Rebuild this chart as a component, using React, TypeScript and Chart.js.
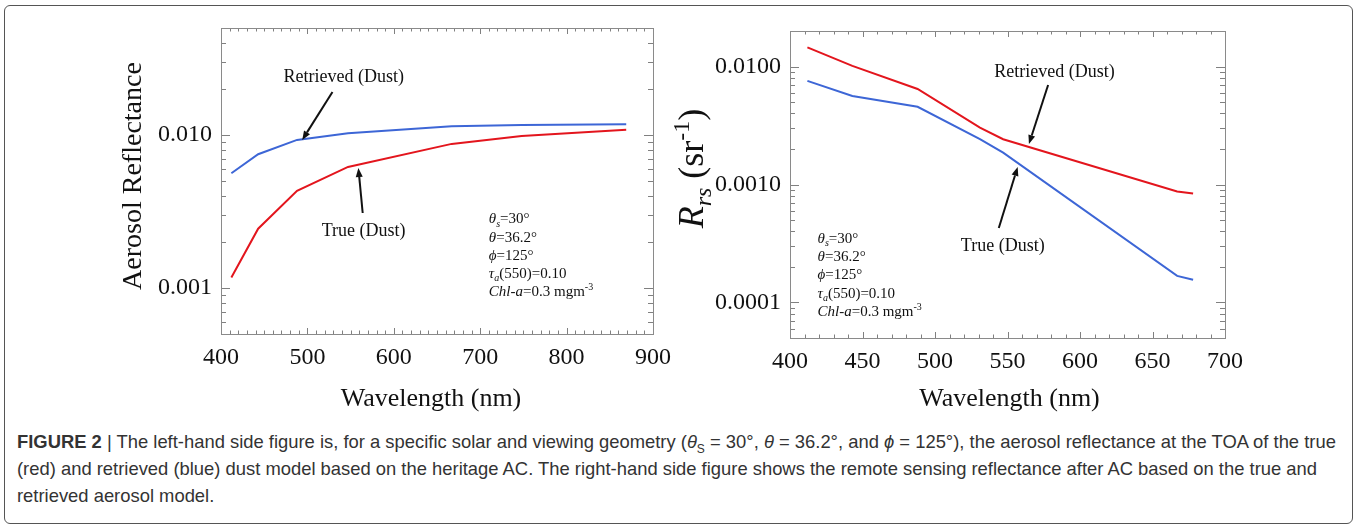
import React, { useEffect, useRef } from "react";
import { Chart, registerables } from "chart.js";

Chart.register(...registerables);

// ---------------- data ----------------
const LEFT_WAVELENGTHS = [412, 443, 488, 547, 667, 748, 869];
const LEFT_TRUE_DUST = [0.00117, 0.00244, 0.00431, 0.00618, 0.00874, 0.00985, 0.01083];
const LEFT_RETRIEVED_DUST = [0.00562, 0.00748, 0.00928, 0.01025, 0.01139, 0.0116, 0.01174];

const RIGHT_WAVELENGTHS = [412, 443, 488, 531, 547, 667, 678];
const RIGHT_RETRIEVED_DUST = [0.01452, 0.01013, 0.00645, 0.00304, 0.00242, 0.000871, 0.000838];
const RIGHT_TRUE_DUST = [0.00755, 0.00562, 0.00456, 0.00242, 0.00186, 0.000168, 0.000156];

const LEFT_X_LABELS = [400, 500, 600, 700, 800, 900];
const RIGHT_X_LABELS = [400, 450, 500, 550, 600, 650, 700];
const LEFT_Y_LABELS: [number, string][] = [
  [0.001, "0.001"],
  [0.01, "0.010"],
];
const RIGHT_Y_LABELS: [number, string][] = [
  [0.0001, "0.0001"],
  [0.001, "0.0010"],
  [0.01, "0.0100"],
];

const RED = "#e3151d";
const BLUE = "#3d66d6";
const SERIF = '"Liberation Serif", "Times New Roman", serif';

type Seg = { t: string; i?: boolean; sub?: boolean; sup?: boolean };

function linearTicks(min: number, max: number, step: number) {
  const out: number[] = [];
  for (let v = min; v <= max; v += step) out.push(v);
  return out;
}
function logTicks(min: number, max: number) {
  const out: number[] = [];
  for (let e = -6; e <= 1; e++) {
    for (let m = 1; m <= 9; m++) {
      const v = +(m * Math.pow(10, e)).toPrecision(6);
      if (v >= min * 0.9999 && v <= max * 1.0001) out.push(v);
    }
  }
  return out;
}
function findLabel(list: [number, string][], v: number) {
  const f = list.find(([k]) => Math.abs(k - v) / k < 1e-6);
  return f ? f[1] : "";
}

function fontFor(size: number, s: Seg) {
  const sz = s.sub || s.sup ? Math.round(size * 0.68) : size;
  return `${s.i ? "italic " : ""}${sz}px ${SERIF}`;
}
function richWidth(ctx: CanvasRenderingContext2D, size: number, segs: Seg[]) {
  let w = 0;
  for (const s of segs) {
    ctx.font = fontFor(size, s);
    w += ctx.measureText(s.t).width;
  }
  return w;
}
function drawRich(
  ctx: CanvasRenderingContext2D,
  x: number,
  yCenter: number,
  size: number,
  segs: Seg[],
  align: "left" | "center"
) {
  const w = richWidth(ctx, size, segs);
  let cx = align === "center" ? x - w / 2 : x;
  const base = yCenter + size * 0.33;
  ctx.textAlign = "left";
  ctx.textBaseline = "alphabetic";
  for (const s of segs) {
    ctx.font = fontFor(size, s);
    const dy = s.sub ? size * 0.22 : s.sup ? -size * 0.38 : 0;
    ctx.fillText(s.t, cx, base + dy);
    cx += ctx.measureText(s.t).width;
  }
}
function drawArrow(ctx: CanvasRenderingContext2D, x1: number, y1: number, x2: number, y2: number) {
  const ang = Math.atan2(y2 - y1, x2 - x1);
  const hl = 9;
  const hw = 3.5;
  const bx = x2 - hl * Math.cos(ang);
  const by = y2 - hl * Math.sin(ang);
  ctx.strokeStyle = "#111";
  ctx.fillStyle = "#111";
  ctx.lineWidth = 2;
  ctx.beginPath();
  ctx.moveTo(x1, y1);
  ctx.lineTo(bx, by);
  ctx.stroke();
  ctx.beginPath();
  ctx.moveTo(x2, y2);
  ctx.lineTo(bx + hw * Math.sin(ang), by - hw * Math.cos(ang));
  ctx.lineTo(bx - hw * Math.sin(ang), by + hw * Math.cos(ang));
  ctx.closePath();
  ctx.fill();
}

const PARAM_LINES: Seg[][] = [
  [{ t: "θ", i: true }, { t: "s", i: true, sub: true }, { t: "=30°" }],
  [{ t: "θ", i: true }, { t: "=36.2°" }],
  [{ t: "ϕ", i: true }, { t: "=125°" }],
  [{ t: "τ", i: true }, { t: "a", i: true, sub: true }, { t: "(550)=0.10" }],
  [{ t: "Chl-a", i: true }, { t: "=0.3 mgm" }, { t: "-3", sup: true }],
];

type Cfg = {
  wl: number[];
  series: { label: string; values: number[]; color: string }[];
  xMin: number;
  xMax: number;
  xMajor: number[];
  xMinorStep: number;
  yMin: number;
  yMax: number;
  yLabels: [number, string][];
  padding: { top: number; right: number; bottom: number; left: number };
  xAxisHeight: number;
  yAxisWidth: number;
  xTitle: Seg[];
  xTitleDx: number;
  xTitleDy: number;
  yTitle: Seg[];
  yTitleSize: number;
  yTitleDx: number;
  yTitleDy: number;
  texts: { t: string; x: number; y: number }[];
  arrows: { from: [number, number]; to: [number, number] }[];
  params: { x: number; y: number; gap: number };
};

const LEFT_CFG: Cfg = {
  wl: LEFT_WAVELENGTHS,
  series: [
    { label: "Retrieved (Dust)", values: LEFT_RETRIEVED_DUST, color: BLUE },
    { label: "True (Dust)", values: LEFT_TRUE_DUST, color: RED },
  ],
  xMin: 400,
  xMax: 900,
  xMajor: LEFT_X_LABELS,
  xMinorStep: 10,
  yMin: 0.0005,
  yMax: 0.05,
  yLabels: LEFT_Y_LABELS,
  padding: { top: 28, right: 24, bottom: 0, left: 0 },
  xAxisHeight: 86,
  yAxisWidth: 221,
  xTitle: [{ t: "Wavelength (nm)" }],
  xTitleDx: -6,
  xTitleDy: 63,
  yTitle: [{ t: "Aerosol Reflectance" }],
  yTitleSize: 28,
  yTitleDx: -89,
  yTitleDy: -5,
  texts: [
    { t: "Retrieved (Dust)", x: 542, y: 0.0243 },
    { t: "True (Dust)", x: 565, y: 0.00239 },
  ],
  arrows: [
    { from: [529, 0.0191], to: [494, 0.00927] },
    { from: [564, 0.00309], to: [559, 0.00608] },
  ],
  params: { x: 710, y: 0.00285, gap: 18.2 },
};

const RIGHT_CFG: Cfg = {
  wl: RIGHT_WAVELENGTHS,
  series: [
    { label: "Retrieved (Dust)", values: RIGHT_RETRIEVED_DUST, color: RED },
    { label: "True (Dust)", values: RIGHT_TRUE_DUST, color: BLUE },
  ],
  xMin: 400,
  xMax: 700,
  xMajor: RIGHT_X_LABELS,
  xMinorStep: 10,
  yMin: 0.00005,
  yMax: 0.02,
  yLabels: RIGHT_Y_LABELS,
  padding: { top: 31, right: 132, bottom: 0, left: 0 },
  xAxisHeight: 82,
  yAxisWidth: 140,
  xTitle: [{ t: "Wavelength (nm)" }],
  xTitleDx: 2,
  xTitleDy: 59,
  yTitle: [
    { t: "R", i: true },
    { t: "rs", i: true, sub: true },
    { t: " (sr" },
    { t: "-1", sup: true },
    { t: ")" },
  ],
  yTitleSize: 36,
  yTitleDx: -99,
  yTitleDy: -16,
  texts: [
    { t: "Retrieved (Dust)", x: 582.4, y: 0.00923 },
    { t: "True (Dust)", x: 546.7, y: 0.000307 },
  ],
  arrows: [
    { from: [578, 0.00697], to: [564.8, 0.0022] },
    { from: [544, 0.000428], to: [557, 0.001408] },
  ],
  params: { x: 419, y: 0.000352, gap: 18.2 },
};

function decorPlugin(cfg: Cfg) {
  return {
    id: "figDecor",
    afterDraw(chart: any) {
      const { ctx, chartArea: a } = chart;
      const xs = chart.scales.x;
      const ys = chart.scales.y;
      ctx.save();
      // inward tick marks on all four sides
      ctx.strokeStyle = "#808080";
      ctx.lineWidth = 1;
      ctx.beginPath();
      for (const t of xs.ticks) {
        const px = Math.round(xs.getPixelForValue(t.value)) + 0.5;
        const L = cfg.xMajor.includes(t.value) ? 6 : 3.5;
        ctx.moveTo(px, a.bottom);
        ctx.lineTo(px, a.bottom - L);
        ctx.moveTo(px, a.top);
        ctx.lineTo(px, a.top + L);
      }
      for (const t of ys.ticks) {
        const py = Math.round(ys.getPixelForValue(t.value)) + 0.5;
        const L = findLabel(cfg.yLabels, t.value) ? 9 : 5;
        ctx.moveTo(a.left, py);
        ctx.lineTo(a.left + L, py);
        ctx.moveTo(a.right, py);
        ctx.lineTo(a.right - L, py);
      }
      ctx.stroke();
      ctx.strokeStyle = "#8a8a8a";
      ctx.strokeRect(
        Math.round(a.left) + 0.5,
        Math.round(a.top) + 0.5,
        Math.round(a.right - a.left),
        Math.round(a.bottom - a.top)
      );

      ctx.fillStyle = "#111";
      // axis titles
      drawRich(ctx, (a.left + a.right) / 2 + cfg.xTitleDx, a.bottom + cfg.xTitleDy, 26, cfg.xTitle, "center");
      ctx.save();
      ctx.translate(a.left + cfg.yTitleDx, (a.top + a.bottom) / 2 + cfg.yTitleDy);
      ctx.rotate(-Math.PI / 2);
      drawRich(ctx, 0, 0, cfg.yTitleSize, cfg.yTitle, "center");
      ctx.restore();

      // annotation labels and arrows
      for (const t of cfg.texts) {
        drawRich(ctx, xs.getPixelForValue(t.x), ys.getPixelForValue(t.y), 18, [{ t: t.t }], "center");
      }
      for (const ar of cfg.arrows) {
        drawArrow(
          ctx,
          xs.getPixelForValue(ar.from[0]),
          ys.getPixelForValue(ar.from[1]),
          xs.getPixelForValue(ar.to[0]),
          ys.getPixelForValue(ar.to[1])
        );
      }
      // parameter block
      ctx.fillStyle = "#111";
      const px = xs.getPixelForValue(cfg.params.x);
      const py = ys.getPixelForValue(cfg.params.y);
      PARAM_LINES.forEach((line, i) => {
        drawRich(ctx, px, py + i * cfg.params.gap, 15, line, "left");
      });
      ctx.restore();
    },
  };
}

function buildConfig(cfg: Cfg): any {
  const xTicks = linearTicks(cfg.xMin, cfg.xMax, cfg.xMinorStep);
  const yTicks = logTicks(cfg.yMin, cfg.yMax);
  return {
    type: "line",
    data: {
      datasets: cfg.series.map((s) => ({
        label: s.label,
        data: cfg.wl.map((x, i) => ({ x, y: s.values[i] })),
        borderColor: s.color,
        backgroundColor: s.color,
        borderWidth: 2,
        pointRadius: 0,
        tension: 0,
        fill: false,
      })),
    },
    options: {
      responsive: false,
      animation: false,
      devicePixelRatio: 1,
      layout: { padding: cfg.padding },
      plugins: { legend: { display: false }, tooltip: { enabled: false } },
      scales: {
        x: {
          type: "linear",
          min: cfg.xMin,
          max: cfg.xMax,
          afterBuildTicks: (s: any) => {
            s.ticks = xTicks.map((v) => ({ value: v }));
          },
          afterFit: (s: any) => {
            s.height = cfg.xAxisHeight;
          },
          grid: { display: false, drawTicks: false },
          border: { display: false },
          ticks: {
            autoSkip: false,
            maxRotation: 0,
            padding: 9,
            color: "#111",
            font: { family: SERIF, size: 24 },
            callback: (v: number) => (cfg.xMajor.includes(v) ? String(v) : ""),
          },
        },
        y: {
          type: "logarithmic",
          min: cfg.yMin,
          max: cfg.yMax,
          afterBuildTicks: (s: any) => {
            s.ticks = yTicks.map((v) => ({ value: v }));
          },
          afterFit: (s: any) => {
            s.width = cfg.yAxisWidth;
          },
          grid: { display: false, drawTicks: false },
          border: { display: false },
          ticks: {
            autoSkip: false,
            padding: 9,
            color: "#111",
            font: { family: SERIF, size: 24 },
            callback: (v: number) => findLabel(cfg.yLabels, v),
          },
        },
      },
    },
    plugins: [decorPlugin(cfg)],
  };
}

function PanelChart({ cfg, left, width, height }: { cfg: Cfg; left: number; width: number; height: number }) {
  const ref = useRef<HTMLCanvasElement>(null);
  useEffect(() => {
    const chart = new Chart(ref.current as HTMLCanvasElement, buildConfig(cfg));
    return () => chart.destroy();
  }, [cfg]);
  return (
    <canvas
      ref={ref}
      width={width}
      height={height}
      style={{ position: "absolute", left, top: 0, width, height }}
    />
  );
}

export default function App() {
  const capLine: React.CSSProperties = { whiteSpace: "nowrap", height: 27 };
  return (
    <div style={{ position: "absolute", left: 0, top: 0, width: 1357, height: 530, background: "#fff", overflow: "hidden" }}>
      <div
        style={{
          position: "absolute",
          left: 4,
          top: 5,
          width: 1349,
          height: 519,
          boxSizing: "border-box",
          border: "1px solid #555",
          borderRadius: 6,
        }}
      />
      <PanelChart cfg={LEFT_CFG} left={0} width={680} height={420} />
      <PanelChart cfg={RIGHT_CFG} left={650} width={707} height={420} />
      <div
        style={{
          position: "absolute",
          left: 17,
          top: 428,
          fontFamily: '"Liberation Sans", Arial, sans-serif',
          fontSize: 18.4,
          lineHeight: "27px",
          color: "#333",
        }}
      >
        <div style={capLine}>
          <b>FIGURE 2</b> | The left-hand side figure is, for a specific solar and viewing geometry (<i>θ</i>
          <sub style={{ fontSize: 12, lineHeight: 0 }}>S</sub> = 30°, <i>θ</i> = 36.2°, and <i>ϕ</i> = 125°), the aerosol
          reflectance at the TOA of the true
        </div>
        <div style={capLine}>
          (red) and retrieved (blue) dust model based on the heritage AC. The right-hand side figure shows the remote
          sensing reflectance after AC based on the true and
        </div>
        <div style={capLine}>retrieved aerosol model.</div>
      </div>
    </div>
  );
}
